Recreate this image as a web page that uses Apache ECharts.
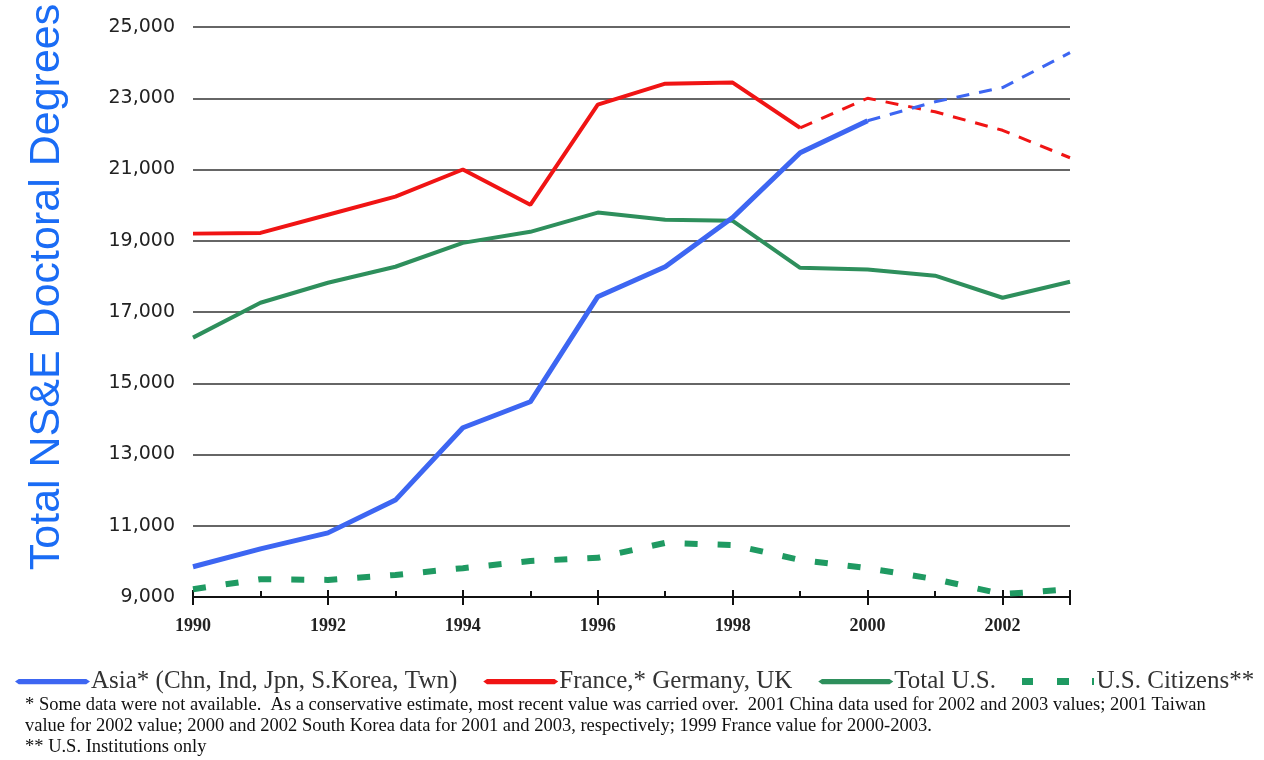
<!DOCTYPE html>
<html><head><meta charset="utf-8">
<script src="https://cdn.jsdelivr.net/npm/echarts@6/dist/echarts.min.js"></script>
<style>html,body{margin:0;padding:0;background:#fff}#c{width:1264px;height:760px}</style>
</head><body><div id="c"></div>
<script>
const years = [1990,1991,1992,1993,1994,1995,1996,1997,1998,1999,2000,2001,2002,2003];
const asia = [9850,10350,10800,11720,13750,14480,17430,18270,19650,21470,22370,null,null,null];
const asiaEst = [null,null,null,null,null,null,null,null,null,null,22370,22900,23300,24280];
const europe = [19200,19220,19730,20240,21000,20010,22820,23410,23440,22170,null,null,null,null];
const europeEst = [null,null,null,null,null,null,null,null,null,22170,23000,22620,22100,21330];
const totalUS = [16280,17260,17820,18270,18940,19250,19790,19590,19560,18240,18190,18020,17400,17850];
const usCitizens = [9220,9500,9480,9620,9810,10010,10100,10520,10460,10040,9810,9500,9080,9220];
const yTicks = [9000,11000,13000,15000,17000,19000,21000,23000,25000];
const names = ['Asia* (Chn, Ind, Jpn, S.Korea, Twn)','France,* Germany, UK','Total U.S.','U.S. Citizens**'];
const yTitle = 'Total NS&E Doctoral Degrees';
const notes = [
 '* Some data were not available.  As a conservative estimate, most recent value was carried over.  2001 China data used for 2002 and 2003 values; 2001 Taiwan',
 'value for 2002 value; 2000 and 2002 South Korea data for 2001 and 2003, respectively; 1999 France value for 2000-2003.',
 '** U.S. Institutions only'
];
const pair = arr => years.map((y,i)=>[y,arr[i]]);
const BLUE='#3d66f2', RED='#f01414', GREEN='#2e8f5c', GREEN2='#1f9a62';
const solidIcon = 'path://M0,3.5L5,0L95,0L100,3.5L95,7L5,7Z';
const dashIcon = 'path://M0,0h11v7h-11Z M35,0h12v7h-12Z M70,0h2v7h-2Z';
const chart = echarts.init(document.getElementById('c'));
chart.setOption({
 animation:false,
 grid:{left:193,right:194,top:27,bottom:163},
 xAxis:[{type:'value',min:1990,max:2003,interval:2,
   axisLine:{lineStyle:{color:'#111',width:2}},
   axisTick:{inside:true,length:7,lineStyle:{color:'#111',width:2}},
   minorTick:{show:true,splitNumber:2,length:6,lineStyle:{color:'#111',width:2}},
   splitLine:{show:false},
   axisLabel:{margin:20,fontFamily:'Liberation Serif',fontWeight:'bold',fontSize:18,color:'#222',
     formatter:v=> (v%2===0 && v<2003)? String(v):''}},
  {type:'value',min:1990,max:2003,interval:2,position:'bottom',
   axisLine:{show:false},axisTick:{inside:false,length:8,lineStyle:{color:'#111',width:2}},
   axisLabel:{show:false},splitLine:{show:false}}],
 yAxis:{type:'value',min:yTicks[0],max:yTicks[yTicks.length-1],interval:2000,
   axisLine:{show:false},axisTick:{show:false},
   splitLine:{lineStyle:{color:'#333',width:1.5}},
   axisLabel:{margin:18,fontFamily:'DejaVu Sans',fontSize:19,color:'#222',
     formatter:v=>v.toLocaleString('en-US')}},
 legend:{left:10,top:664,itemWidth:75,itemHeight:7,itemGap:26,
   data:[
    {name:names[0],icon:solidIcon},{name:names[1],icon:solidIcon},
    {name:names[2],icon:solidIcon},{name:names[3],icon:dashIcon}],
   textStyle:{fontFamily:'Liberation Serif',fontSize:25,color:'#333',padding:[0,0,0,-4]}},
 graphic:[
  {type:'text',x:47,y:287,rotation:Math.PI/2,
   style:{text:yTitle,font:'43px "Liberation Sans"',fill:'#1a6cf5',textAlign:'center',textVerticalAlign:'middle'}},
  {type:'text',x:25,y:705,style:{text:notes[0],font:'18.5px "Liberation Serif"',fill:'#111',textVerticalAlign:'middle'}},
  {type:'text',x:25,y:726,style:{text:notes[1],font:'18.5px "Liberation Serif"',fill:'#111',textVerticalAlign:'middle'}},
  {type:'text',x:25,y:747,style:{text:notes[2],font:'18.5px "Liberation Serif"',fill:'#111',textVerticalAlign:'middle'}}
 ],
 series:[
  {name:names[0],type:'line',data:pair(asia),symbol:'none',color:BLUE,lineStyle:{width:5,color:BLUE},z:4},
  {name:'asiaEst',type:'line',data:pair(asiaEst),symbol:'none',color:BLUE,lineStyle:{width:3,color:BLUE,type:[13,10]},z:4},
  {name:names[1],type:'line',data:pair(europe),symbol:'none',color:RED,lineStyle:{width:4,color:RED},z:3},
  {name:'europeEst',type:'line',data:pair(europeEst),symbol:'none',color:RED,lineStyle:{width:3,color:RED,type:[13,10]},z:3},
  {name:names[2],type:'line',data:pair(totalUS),symbol:'none',color:GREEN,lineStyle:{width:4,color:GREEN},z:2},
  {name:names[3],type:'line',data:pair(usCitizens),symbol:'none',color:GREEN2,lineStyle:{width:6,color:GREEN2,type:[13,20]},z:2}
 ]
});
</script></body></html>
